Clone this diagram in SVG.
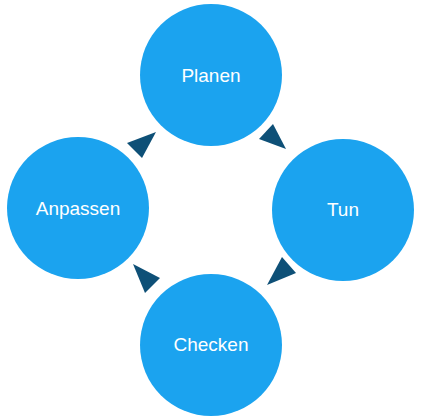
<svg xmlns="http://www.w3.org/2000/svg" width="425" height="416" viewBox="0 0 425 416">
<style>
.node circle{fill:#1BA3EF}
.node text{fill:#fff;font-family:"Liberation Sans",Arial,sans-serif;font-size:19px;text-anchor:middle}
.arr{fill:#0E5077}
</style>
<rect width="425" height="416" fill="#fff"/>
<g id="planen" class="node"><circle cx="211" cy="75" r="71"/><text x="211" y="82">Planen</text></g>
<g id="tun" class="node"><circle cx="343" cy="210" r="71"/><text x="343" y="216">Tun</text></g>
<g id="checken" class="node"><circle cx="211" cy="345" r="71"/><text x="211" y="351">Checken</text></g>
<g id="anpassen" class="node"><circle cx="78" cy="208" r="71"/><text x="78" y="215">Anpassen</text></g>
<g id="connectors">
<polygon class="arr" points="259,139 273,124 286,149"/>
<polygon class="arr" points="282,257 296,273 267,285"/>
<polygon class="arr" points="160,278 145,293 133,264"/>
<polygon class="arr" points="127,143 142,158 156,132"/>
</g>
</svg>
